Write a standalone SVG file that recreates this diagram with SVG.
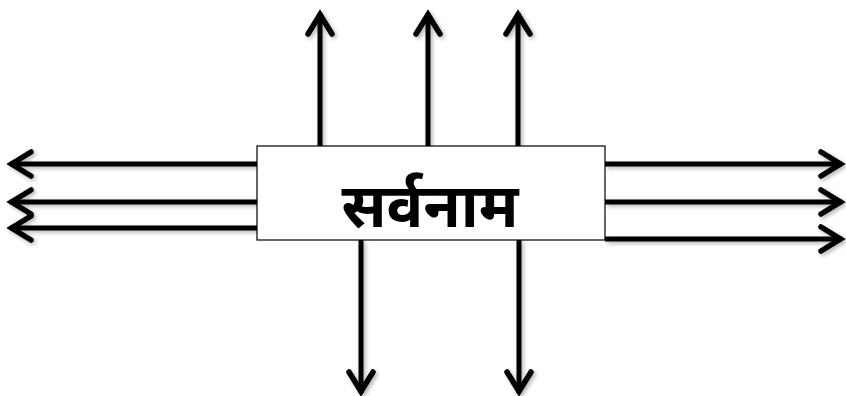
<svg xmlns="http://www.w3.org/2000/svg" width="846" height="396" viewBox="0 0 846 396">
  <defs>
    <style>
      .ln { stroke: #000; stroke-width: 5; fill: none; stroke-linecap: butt; }
      .hd { stroke: #000; stroke-width: 5.5; fill: none; stroke-linecap: round; stroke-linejoin: miter; }
      .box { fill: #fff; stroke: #000; stroke-width: 1.2; }
      .lbl { font-family: "Noto Sans Devanagari", "Noto Sans", "Lohit Devanagari", "FreeSans", sans-serif; font-weight: bold; fill: #000; }
    </style>
    <marker id="ah" markerUnits="userSpaceOnUse" viewBox="-28 -16 32 32" markerWidth="32" markerHeight="32" refX="0" refY="0" orient="auto">
      <path class="hd" d="M-21,-12 L-1.5,0 L-21,12"/>
    </marker>
    <filter id="sh" x="-10%" y="-10%" width="120%" height="120%">
      <feGaussianBlur in="SourceAlpha" stdDeviation="2"/>
      <feOffset dx="2" dy="2" result="b"/>
      <feComponentTransfer><feFuncA type="linear" slope="0.3"/></feComponentTransfer>
      <feMerge><feMergeNode/><feMergeNode in="SourceGraphic"/></feMerge>
    </filter>
  </defs>
  <rect width="846" height="396" fill="#fff"/>
  <g id="connectors" filter="url(#sh)">
    <line class="ln" x1="257" y1="164" x2="10" y2="164" marker-end="url(#ah)"/>
    <line class="ln" x1="257" y1="202" x2="10" y2="202" marker-end="url(#ah)"/>
    <line class="ln" x1="257" y1="228" x2="10" y2="228" marker-end="url(#ah)"/>
    <line class="ln" x1="605" y1="164" x2="842" y2="164" marker-end="url(#ah)"/>
    <line class="ln" x1="605" y1="202" x2="842" y2="202" marker-end="url(#ah)"/>
    <line class="ln" x1="605" y1="239" x2="842" y2="239" marker-end="url(#ah)"/>
    <line class="ln" x1="320" y1="146" x2="320" y2="13" marker-end="url(#ah)"/>
    <line class="ln" x1="428" y1="146" x2="428" y2="13" marker-end="url(#ah)"/>
    <line class="ln" x1="518" y1="146" x2="518" y2="13" marker-end="url(#ah)"/>
    <line class="ln" x1="361" y1="240" x2="361" y2="393" marker-end="url(#ah)"/>
    <line class="ln" x1="519" y1="240" x2="519" y2="393" marker-end="url(#ah)"/>
  </g>
  <g id="node-sarvanam">
    <rect class="box" x="257" y="146" width="348" height="94"/>
    <text class="lbl" x="430" y="227" font-size="61" text-anchor="middle">सर्वनाम</text>
  </g>
</svg>
